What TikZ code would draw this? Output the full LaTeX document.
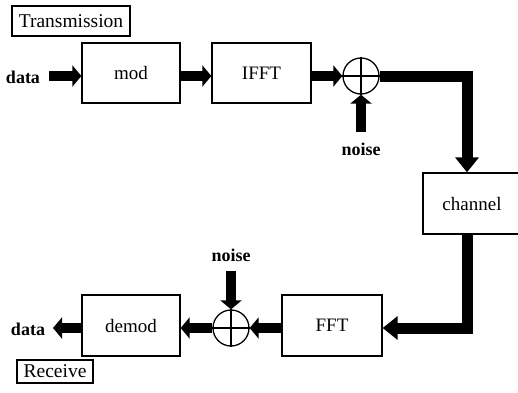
\documentclass[tikz,border=0pt]{standalone}
\usepackage{fontspec}
\setmainfont{Liberation Serif}
\usetikzlibrary{arrows.meta}
\begin{document}
\begin{tikzpicture}[x=1pt,y=-1pt,
  box/.style={draw,line width=1.3pt,minimum width=98pt,minimum height=60pt,inner sep=0pt,font=\fontsize{19}{19}\selectfont},
  lbl/.style={font=\bfseries\fontsize{18}{18}\selectfont,inner sep=0pt},
  tagbox/.style={draw,line width=1.1pt,inner sep=0pt,font=\fontsize{19.5}{19.5}\selectfont},
  sumnode/.style={draw,circle,minimum size=36pt,inner sep=0pt,line width=1.3pt},
  flow/.style={line width=10pt,-{Triangle[length=9pt,width=21pt]}},
  bigflow/.style={line width=11pt,line join=miter,-{Triangle[length=15pt,width=23pt]}},
]
\useasboundingbox (0,0) rectangle (518,392);
% tags
\node[tagbox,minimum width=118pt,minimum height=30pt] (tx) at (71,21) {Transmission};
\node[tagbox,minimum width=76pt,minimum height=23pt] (rx) at (55,371.5) {Receive};
% blocks
\node[box] (mod) at (131,73) {mod};
\node[box,minimum width=99pt] (ifft) at (261.5,73) {IFFT};
\node[box,minimum width=104pt,minimum height=61pt] (ch) at (475,203.5) {\hspace*{-6pt}channel};
\node[box,minimum width=100pt,minimum height=61pt] (fft) at (332,325.5) {FFT};
\node[box,minimum height=61pt] (demod) at (131,325.5) {demod};
% summers
\node[sumnode] (s1) at (361,76) {};
\node[sumnode] (s2) at (231,328) {};
\draw[line width=1.3pt] (s1.north) -- (s1.south) (s1.west) -- (s1.east);
\draw[line width=1.3pt] (s2.north) -- (s2.south) (s2.west) -- (s2.east);
% labels
\node[lbl] (d1) at (23,77) {data};
\node[lbl] (d2) at (28,329) {data};
\node[lbl] (n1) at (361,149) {noise};
\node[lbl] (n2) at (231,255) {noise};
\coordinate (d1s) at (49,76);
\coordinate (d2e) at (53,328);
\coordinate (n1s) at (361,132);
\coordinate (n2s) at (231,271);
\coordinate (c1) at (467,76);
\coordinate (c2) at (467,328);
% connectors
\draw[flow] (d1s) -- (mod.west |- d1s);
\draw[flow] (mod.east |- s1.center) -- (ifft.west |- s1.center);
\draw[flow] (ifft.east |- s1.center) -- (s1.west);
\draw[flow] (n1s) -- (s1.south);
\draw[bigflow] (s1.east) -- (c1) -- (c1 |- ch.north);
\draw[bigflow] (c1 |- ch.south) -- (c2) -- (fft.east |- c2);
\draw[flow] (fft.west |- s2.center) -- (s2.east);
\draw[flow] (n2s) -- (s2.north);
\draw[flow] (s2.west) -- (demod.east |- s2.center);
\draw[flow] (demod.west |- s2.center) -- (d2e);
\end{tikzpicture}
\end{document}
